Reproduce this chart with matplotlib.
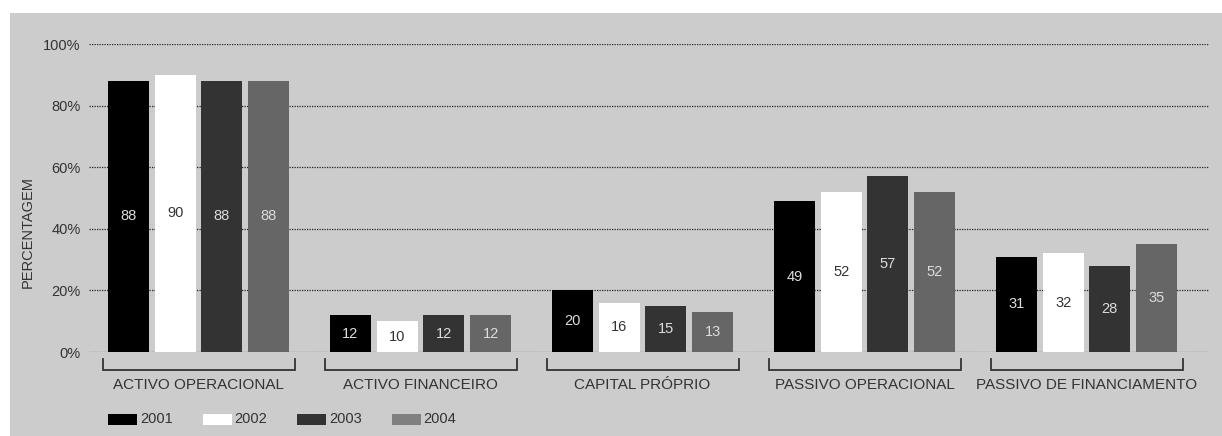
import matplotlib
matplotlib.use("Agg")
import matplotlib.pyplot as plt
from matplotlib.patches import Rectangle
from matplotlib.transforms import blended_transform_factory
import numpy as np

categories = ["ACTIVO OPERACIONAL", "ACTIVO FINANCEIRO", "CAPITAL PRÓPRIO",
              "PASSIVO OPERACIONAL", "PASSIVO DE FINANCIAMENTO"]
years = ["2001", "2002", "2003", "2004"]
v2001 = [88, 12, 20, 49, 31]
v2002 = [90, 10, 16, 52, 32]
v2003 = [88, 12, 15, 57, 28]
v2004 = [88, 12, 13, 52, 35]
series = [v2001, v2002, v2003, v2004]
yticks = [0, 20, 40, 60, 80, 100]

bar_colors = ["#000000", "#ffffff", "#333333", "#666666"]
legend_colors = ["#000000", "#ffffff", "#333333", "#808080"]
label_colors = ["#dddddd", "#333333", "#dddddd", "#dddddd"]
text_color = "#333333"

plt.rcParams["font.family"] = ["Liberation Sans", "DejaVu Sans"]

W, H = 1222, 436
fig = plt.figure(figsize=(W / 100, H / 100), dpi=100, facecolor="white")

# grey panel behind the chart
fig.patches.append(Rectangle((10 / W, 0), (W - 10) / W, (H - 13) / H,
                             transform=fig.transFigure, facecolor="#cccccc",
                             edgecolor="none", zorder=-10))

ax_left, ax_right, ax_top, ax_bottom = 89, 1209, 44, 352
ax = fig.add_axes([ax_left / W, (H - ax_bottom) / H,
                   (ax_right - ax_left) / W, (ax_bottom - ax_top) / H])
ax.set_facecolor("none")

pitch = 222.0
bar_w = 41 / pitch
step = 46.7 / pitch
x = np.arange(len(categories))

for k, (vals, col) in enumerate(zip(series, bar_colors)):
    xs = x + (k - 1.5) * step
    ax.bar(xs, vals, width=bar_w, color=col, edgecolor="none", zorder=3)
    for xi, v in zip(xs, vals):
        ax.text(xi, v / 2, f"{v}", ha="center", va="center", fontsize=10.5,
                color=label_colors[k], zorder=4)

ax.set_ylim(0, 100)
ax.set_xlim((89 - 198.5) / pitch, (1209 - 198.5) / pitch)

for t in yticks:
    ax.axhline(t, color="#222222", lw=0.9, linestyle=(0, (1, 1)), zorder=1)

ax.set_yticks(yticks)
ax.set_yticklabels([f"{t}%" for t in yticks], fontsize=10.5, color=text_color)
ax.tick_params(axis="y", length=0, pad=6)
ax.set_xticks([])
for s in ax.spines.values():
    s.set_visible(False)

# brackets and category names under each group
tr = blended_transform_factory(ax.transData, ax.transAxes)
span = ax_bottom - ax_top
y_top = -(359 - ax_bottom) / span
y_bot = -(370 - ax_bottom) / span
y_lab = -(385 - ax_bottom) / span
half = 96 / pitch
for xi, name in zip(x, categories):
    ax.plot([xi - half, xi - half, xi + half, xi + half],
            [y_top, y_bot, y_bot, y_top], color="#333333", lw=1.3,
            transform=tr, clip_on=False, solid_joinstyle="miter")
    ax.text(xi, y_lab, name, transform=tr, ha="center", va="center",
            fontsize=11, color=text_color)

fig.text(28 / W, 1 - 232 / H, "PERCENTAGEM", rotation=90, ha="center",
         va="center", fontsize=10.5, color=text_color)

# legend
lx0, ly, pw, ph, gap = 108, 419, 29, 11, 94.5
for k, (yr, col) in enumerate(zip(years, legend_colors)):
    px = lx0 + k * gap
    fig.patches.append(Rectangle((px / W, 1 - (ly + ph / 2) / H), pw / W, ph / H,
                                 transform=fig.transFigure, facecolor=col,
                                 edgecolor="none"))
    fig.text((px + pw + 3) / W, 1 - ly / H, yr, ha="left", va="center",
             fontsize=10.5, color=text_color)

fig.savefig("out.png", dpi=100, facecolor="white")
